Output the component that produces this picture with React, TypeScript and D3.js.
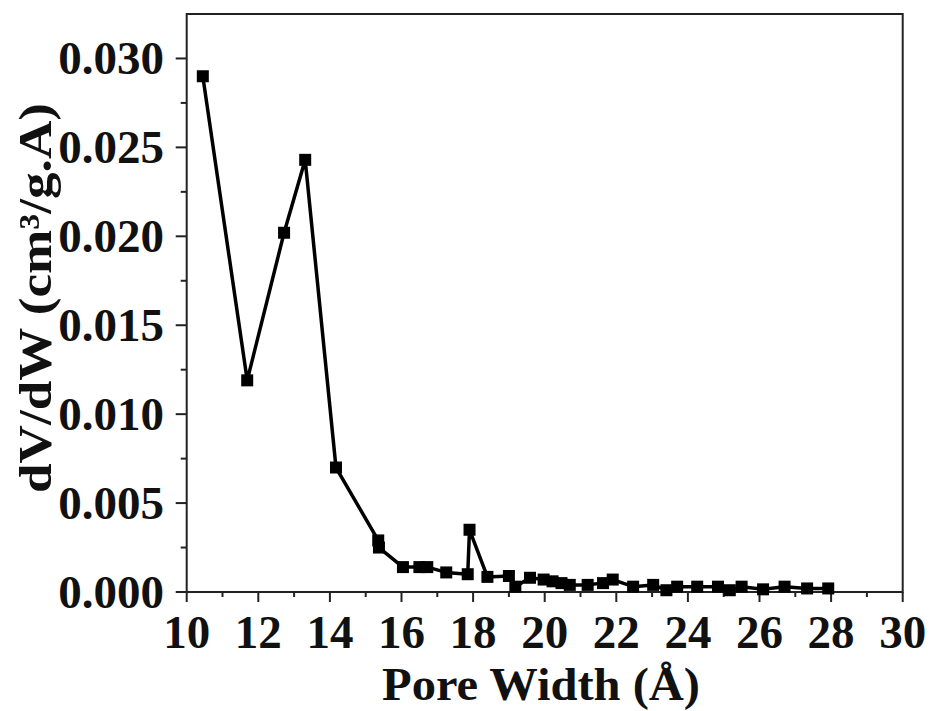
import React from 'react'
import * as d3 from 'd3'

// pore width (Å) and dV/dW (cm³/g.Å)
const poreWidth = [
  10.45, 11.69, 12.72, 13.31, 14.17, 15.35, 15.37, 16.04, 16.5, 16.72,
  17.25, 17.85, 17.9, 18.4, 19.0, 19.18, 19.59, 19.97, 20.22, 20.47,
  20.7, 21.2, 21.63, 21.9, 22.47, 23.03, 23.4, 23.7, 24.26, 24.84,
  25.17, 25.5, 26.1, 26.7, 27.33, 27.92,
]
const dvdw = [
  0.029, 0.0119, 0.0202, 0.0243, 0.007, 0.0029, 0.0025, 0.0014, 0.0014, 0.0014,
  0.0011, 0.001, 0.0035, 0.00085, 0.0009, 0.0003, 0.0008, 0.0007, 0.0006, 0.0005,
  0.0004, 0.0004, 0.0005, 0.0007, 0.0003, 0.0004, 0.0001, 0.0003, 0.0003, 0.0003,
  0.0001, 0.0003, 0.00015, 0.0003, 0.0002, 0.0002,
]

const xMajor = [10, 12, 14, 16, 18, 20, 22, 24, 26, 28, 30]
const xMinor = [11, 13, 15, 17, 19, 21, 23, 25, 27, 29]
const yMajor = [0, 0.005, 0.01, 0.015, 0.02, 0.025, 0.03]
const yMinor = [0.0025, 0.0075, 0.0125, 0.0175, 0.0225, 0.0275]

const W = 932
const H = 711
const left = 186.7
const right = 902.7
const top = 14
const bottom = 592

const font = '"Liberation Serif", "Times New Roman", serif'

function App() {
  const x = d3.scaleLinear().domain([10, 30]).range([left, right])
  const y = d3.scaleLinear().domain([0, 0.0325]).range([bottom, top])

  const pts = poreWidth.map((w, i) => [w, dvdw[i]] as [number, number])
  const line = d3.line<[number, number]>()
    .x(d => x(d[0]))
    .y(d => y(d[1]))

  const sq = 12

  return (
    <svg width={W} height={H} style={{ position: 'absolute', left: 0, top: 0, background: '#fff' }}>
      {/* frame */}
      <rect x={left} y={top} width={right - left} height={bottom - top} fill="none" stroke="#222" strokeWidth={2} />

      {/* x ticks */}
      {xMajor.map(t => (
        <g key={'xm' + t}>
          <line x1={x(t)} x2={x(t)} y1={bottom} y2={bottom + 10} stroke="#222" strokeWidth={2} />
          <text x={x(t)} y={648} textAnchor="middle" fontFamily={font} fontWeight="bold" fontSize={47} fill="#111">{t}</text>
        </g>
      ))}
      {xMinor.map(t => (
        <line key={'xn' + t} x1={x(t)} x2={x(t)} y1={bottom} y2={bottom + 5} stroke="#222" strokeWidth={2} />
      ))}

      {/* y ticks */}
      {yMajor.map(t => (
        <g key={'ym' + t}>
          <line x1={left - 11} x2={left} y1={y(t)} y2={y(t)} stroke="#222" strokeWidth={2} />
          <text x={164} y={y(t)} dy="0.34em" textAnchor="end" fontFamily={font} fontWeight="bold" fontSize={47} fill="#111">{t.toFixed(3)}</text>
        </g>
      ))}
      {yMinor.map(t => (
        <line key={'yn' + t} x1={left - 6} x2={left} y1={y(t)} y2={y(t)} stroke="#222" strokeWidth={2} />
      ))}

      {/* axis titles */}
      <text x={541} y={700} textAnchor="middle" fontFamily={font} fontWeight="bold" fontSize={46}
        textLength={318} lengthAdjust="spacingAndGlyphs" fill="#111">Pore Width (Å)</text>
      <text transform={`translate(51,298) rotate(-90)`} textAnchor="middle" fontFamily={font} fontWeight="bold" fontSize={46}
        textLength={390} lengthAdjust="spacingAndGlyphs" fill="#111">dV/dW (cm³/g.A)</text>

      {/* data */}
      <path d={line(pts) || ''} fill="none" stroke="#000" strokeWidth={3.5} strokeLinejoin="round" />
      {pts.map((d, i) => (
        <rect key={i} x={x(d[0]) - sq / 2} y={y(d[1]) - sq / 2} width={sq} height={sq} fill="#000" />
      ))}
    </svg>
  )
}

export default App
